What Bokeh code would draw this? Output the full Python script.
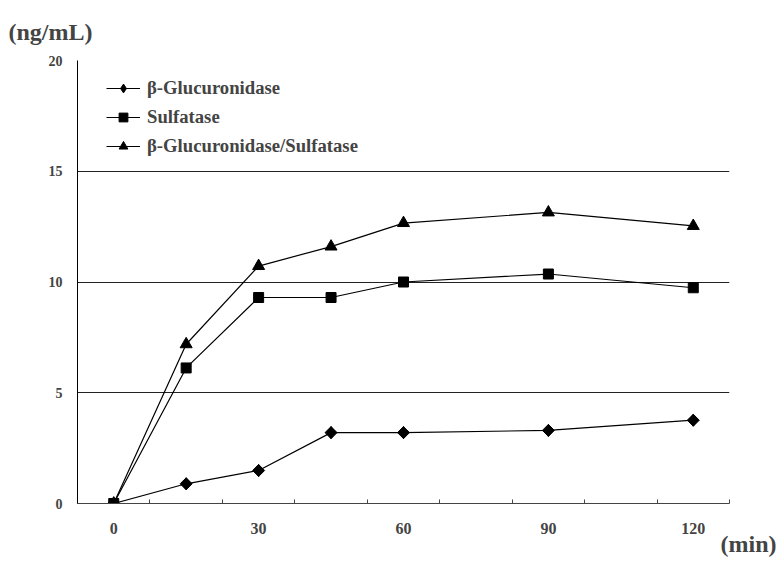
import math
from bokeh.plotting import figure
from bokeh.models import FixedTicker, Range1d, ColumnDataSource, LegendItem, Legend, Title
from bokeh.embed import file_html
from bokeh.resources import INLINE

minutes = [0, 15, 30, 45, 60, 90, 120]
glucuronidase = [0, 0.89, 1.49, 3.2, 3.2, 3.3, 3.76]
sulfatase = [0, 6.12, 9.3, 9.3, 10.0, 10.36, 9.74]
both = [0, 7.19, 10.72, 11.6, 12.66, 13.14, 12.53]

x_tick_labels = [0, 30, 60, 90, 120]
x_boundaries = [-7.5 + 15 * i for i in range(10)]
y_ticks = [0, 5, 10, 15, 20]

FONT = "'Liberation Serif', 'Times New Roman', serif"

p = figure(width=784, height=561, output_backend="svg", toolbar_location=None,
           x_range=Range1d(-7.5, 127.5), y_range=Range1d(0, 20),
           min_border_left=77, min_border_right=55, min_border_top=60, min_border_bottom=58)
p.outline_line_color = None
p.background_fill_color = "white"

p.xaxis.ticker = FixedTicker(ticks=x_tick_labels, minor_ticks=x_boundaries)
p.xaxis.major_tick_in = 0
p.xaxis.major_tick_out = 0
p.xaxis.minor_tick_in = 4
p.xaxis.minor_tick_out = 0
p.xaxis.minor_tick_line_color = "#444444"
p.xaxis.axis_line_color = "#444444"
p.xaxis.major_label_text_font = FONT
p.xaxis.major_label_text_font_style = "bold"
p.xaxis.major_label_text_font_size = "16px"
p.xaxis.major_label_standoff = 19

p.yaxis.ticker = FixedTicker(ticks=y_ticks)
p.yaxis.major_tick_in = 0
p.yaxis.major_tick_out = 0
p.yaxis.minor_tick_line_color = None
p.yaxis.axis_line_color = "black"
p.yaxis.major_label_text_font = FONT
p.yaxis.major_label_text_font_style = "bold"
p.yaxis.major_label_text_font_size = "14px"
p.yaxis.major_label_standoff = 15

p.xgrid.grid_line_color = None
p.ygrid.ticker = FixedTicker(ticks=y_ticks)
p.ygrid.grid_line_color = "#222222"
p.ygrid.grid_line_width = 1

src = ColumnDataSource(dict(x=minutes, g=glucuronidase, s=sulfatase, b=both))

l1 = "β-Glucuronidase"
l2 = "Sulfatase"
l3 = "β-Glucuronidase/Sulfatase"

r1l = p.line("x", "g", source=src, line_color="black", line_width=1.2)
r1m = p.scatter("x", "g", source=src, marker="diamond", size=12,
                fill_color="black", line_color="black")
p.scatter("x", "g", source=src, marker="square", angle=math.pi / 4, size=8.5,
          fill_color="black", line_color="black")
r2l = p.line("x", "s", source=src, line_color="black", line_width=1.2)
r2m = p.scatter("x", "s", source=src, marker="square", size=10,
                fill_color="black", line_color="black")
r3l = p.line("x", "b", source=src, line_color="black", line_width=1.2)
r3m = p.scatter("x", "b", source=src, marker="triangle", size=12,
                fill_color="black", line_color="black")

lg = Legend(items=[LegendItem(label=l1, renderers=[r1l, r1m]),
                   LegendItem(label=l2, renderers=[r2l, r2m]),
                   LegendItem(label=l3, renderers=[r3l, r3m])])
lg.location = (29, 346)
lg.padding = 0
lg.margin = 0
lg.border_line_color = None
lg.background_fill_alpha = 0
lg.glyph_width = 34
lg.glyph_height = 22
lg.label_height = 22
lg.spacing = 7
lg.label_standoff = 7
lg.label_text_font = FONT
lg.label_text_font_style = "bold"
lg.label_text_font_size = "18.7px"
p.add_layout(lg, "center")

unit_y = Title(text="(ng/mL)", align="left", offset=-69, standoff=31,
               text_font=FONT, text_font_style="bold", text_font_size="24px")
p.add_layout(unit_y, "above")
unit_x = Title(text="(min)", align="left", offset=643, standoff=-16,
               text_font=FONT, text_font_style="bold", text_font_size="24px")
p.add_layout(unit_x, "below")

open("out.html", "w").write(file_html(p, INLINE))
